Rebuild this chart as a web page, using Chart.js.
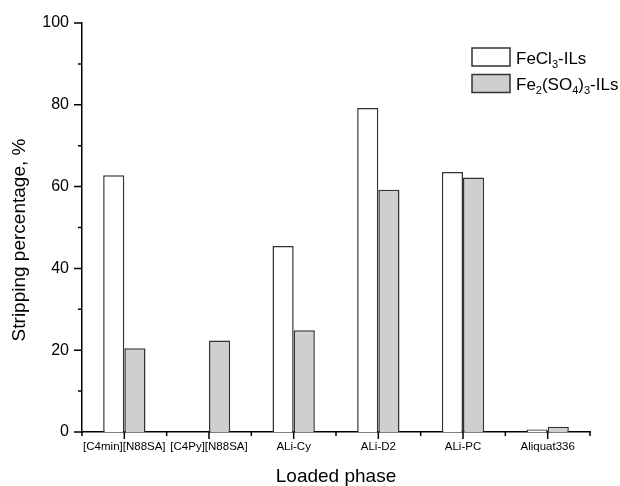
<!DOCTYPE html>
<html>
<head>
<meta charset="utf-8">
<script src="https://cdn.jsdelivr.net/npm/chart.js@4/dist/chart.umd.min.js"></script>
<style>
  html, body { margin: 0; padding: 0; background: #fff; }
  #wrap { width: 620px; height: 486px; }
</style>
</head>
<body>
<div id="wrap"><canvas id="myChart" width="620" height="486"></canvas></div>
<script>
const phases = [
  "[C4min][N88SA]",
  "[C4Py][N88SA]",
  "ALi-Cy",
  "ALi-D2",
  "ALi-PC",
  "Aliquat336",
];

// stripping percentage
const fecl3Values = [62.8, null, 45.5, 79.2, 63.6, 0.6];
const fe2so43Values = [20.5, 22.4, 24.9, 59.2, 62.2, 1.3];

const seriesLabels = ["FeCl3-ILs", "Fe2(SO4)3-ILs"];
const yTicks = [0, 10, 20, 30, 40, 50, 60, 70, 80, 90, 100];
const yTitle = "Stripping percentage, %";

const fontFamily = "'Liberation Sans', Arial, sans-serif";

// axis tick marks: long at labelled ticks / category centers, short otherwise
const tickMarksPlugin = {
  id: "tickMarks",
  afterDraw: (chart) => {
    const ctx = chart.ctx;
    const x = chart.scales.x;
    const y = chart.scales.y;
    const left = chart.chartArea.left;
    const bottom = chart.chartArea.bottom;
    ctx.save();
    ctx.strokeStyle = "#000";
    ctx.lineWidth = 1.5;
    ctx.beginPath();
    yTicks.forEach((v) => {
      const py = y.getPixelForValue(v);
      const len = v % 20 === 0 ? 8 : 4;
      ctx.moveTo(left, py);
      ctx.lineTo(left - len, py);
    });
    const half = (x.getPixelForValue(1) - x.getPixelForValue(0)) / 2;
    phases.forEach((p, i) => {
      const px = x.getPixelForValue(i);
      ctx.moveTo(px, bottom);
      ctx.lineTo(px, bottom + 7);
      ctx.moveTo(px - half, bottom);
      ctx.lineTo(px - half, bottom + 4);
      if (i === phases.length - 1) {
        ctx.moveTo(px + half, bottom);
        ctx.lineTo(px + half, bottom + 4);
      }
    });
    ctx.stroke();

    // y title, sits a bit lower than the scale centre in the original
    ctx.translate(20, 240);
    ctx.rotate(-Math.PI / 2);
    ctx.font = "19px " + fontFamily;
    ctx.fillStyle = "#000";
    ctx.textAlign = "center";
    ctx.textBaseline = "middle";
    ctx.fillText(yTitle, 0, 0);
    ctx.restore();
  },
};

// legend with chemical subscripts (digits are lowered)
const drawFormula = (ctx, text, x, baseline) => {
  const parts = text.split(/(\d+)/).filter((s) => s.length);
  let cx = x;
  parts.forEach((part) => {
    const sub = /^\d+$/.test(part);
    ctx.font = (sub ? "11px " : "17px ") + fontFamily;
    ctx.fillText(part, cx, sub ? baseline + 4 : baseline);
    cx += ctx.measureText(part).width;
  });
};

const legendPlugin = {
  id: "subLegend",
  afterDraw: (chart) => {
    const ctx = chart.ctx;
    const area = chart.chartArea;
    const boxX = area.right - 118;
    ctx.save();
    ctx.textBaseline = "alphabetic";
    chart.data.datasets.forEach((ds, i) => {
      const top = 48 + i * 26.5;
      ctx.fillStyle = ds.backgroundColor;
      ctx.fillRect(boxX, top, 38, 18);
      ctx.strokeStyle = "#333";
      ctx.lineWidth = 1.5;
      ctx.strokeRect(boxX, top, 38, 18);
      ctx.fillStyle = "#000";
      drawFormula(ctx, ds.label, boxX + 44, top + 15.5);
    });
    ctx.restore();
  },
};

const canvaTagId = document.getElementById("myChart");

const strippingChart = new Chart(canvaTagId, {
  type: "bar",
  data: {
    labels: phases,
    datasets: [
      {
        label: seriesLabels[0],
        data: fecl3Values,
        backgroundColor: "#ffffff",
        borderColor: "#333333",
        borderWidth: 1.5,
      },
      {
        label: seriesLabels[1],
        data: fe2so43Values,
        backgroundColor: "#cfcfcf",
        borderColor: "#333333",
        borderWidth: 1.5,
      },
    ],
  },
  options: {
    responsive: false,
    devicePixelRatio: 1,
    animation: false,
    categoryPercentage: 0.5,
    barPercentage: 1.0,
    layout: {
      padding: { top: 23, right: 30, left: 0, bottom: 0 },
    },
    scales: {
      x: {
        grid: { display: false, drawTicks: false },
        border: { display: true, color: "#000", width: 1.5 },
        ticks: {
          color: "#000",
          font: { family: fontFamily, size: 11.5 },
          padding: 8,
          maxRotation: 0,
          autoSkip: false,
        },
        title: {
          display: true,
          text: "Loaded phase",
          color: "#000",
          font: { family: fontFamily, size: 19, lineHeight: 1 },
          padding: { top: 0, bottom: 0 },
        },
        afterFit: (scale) => {
          scale.height = 54;
        },
      },
      y: {
        min: 0,
        max: 100,
        grid: { display: false, drawTicks: false },
        border: { display: true, color: "#000", width: 1.5 },
        ticks: {
          stepSize: 10,
          color: "#000",
          font: { family: fontFamily, size: 16 },
          padding: 13,
          callback: (value) => (value % 20 === 0 ? value : ""),
        },
        afterFit: (scale) => {
          scale.width = 82;
        },
      },
    },
    plugins: {
      legend: { display: false },
      tooltip: { enabled: false },
    },
  },
  plugins: [tickMarksPlugin, legendPlugin],
});
</script>
</body>
</html>
